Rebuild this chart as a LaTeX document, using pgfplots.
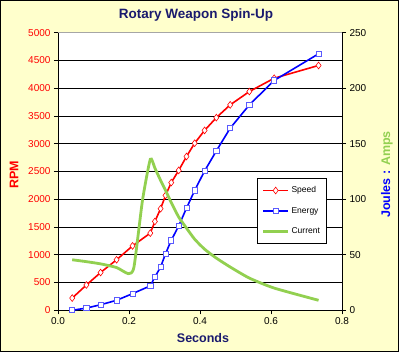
\documentclass[border=0pt]{standalone}
\usepackage{pgfplots}
\pgfplotsset{compat=1.18}
\usepackage{fontspec}
\setmainfont{Liberation Sans}
\definecolor{bgyellow}{RGB}{255,255,204}
\definecolor{navy}{RGB}{26,26,110}
\definecolor{curgreen}{RGB}{146,208,80}
\definecolor{mkblue}{RGB}{90,90,255}

\pgfplotstableread{
x speed energy
0.040 220 0
0.080 456 2
0.120 680 5
0.165 910 9
0.210 1160 15
0.260 1390 22
0.273 1600 30
0.289 1830 39
0.303 2070 51
0.319 2300 63
0.340 2520 76
0.362 2770 92
0.385 3010 108
0.413 3240 125.5
0.446 3470 143.5
0.485 3700 164
0.539 3940 185
0.609 4180 207
0.734 4410 231
}\spintable

\pgfplotstableread{
x amps
0.040 45.5
0.080 43.8
0.120 41.8
0.165 38.5
0.198 33
0.214 39
0.238 99
0.260 136
0.273 128
0.289 117
0.303 108
0.319 97
0.340 84
0.362 74
0.385 64
0.413 55
0.446 47
0.485 39
0.539 29
0.609 20
0.734 9
}\currenttable

\begin{document}
\begin{tikzpicture}[x=1pt,y=1pt]
\fill[bgyellow] (-58,-41.7) rectangle (341,310.3);
\draw[line width=1pt] (-57.5,-41.2) rectangle (340.5,309.8);
\begin{axis}[
  at={(0pt,0pt)}, anchor=south west,
  scale only axis, width=284pt, height=277.6pt,
  axis background/.style={fill=white},
  xmin=0, xmax=0.8, ymin=0, ymax=5000,
  xtick={0,0.2,0.4,0.6,0.8},
  ytick={0,500,1000,1500,2000,2500,3000,3500,4000,4500,5000},
  axis x line*=bottom, axis y line*=left,
  axis line style={-, black, line width=0.8pt},
  tick align=outside, major tick length=4pt,
  tick style={black, line width=0.8pt},
  ymajorgrids, grid style={black, line width=0.8pt},
  /pgf/number format/assume math mode=true,
  /pgf/number format/1000 sep={},
  scaled ticks=false,
  xticklabel style={/pgf/number format/.cd, fixed, fixed zerofill, precision=1},
  tick label style={font=\fontsize{10}{12}\selectfont},
  yticklabel style={red},
  title={\textbf{Rotary Weapon Spin-Up}},
  title style={navy, font=\fontsize{13.5}{15}\selectfont, at={(axis description cs:0.5,1)}, anchor=base, yshift=8.3pt, xshift=-4pt},
  xlabel={\textbf{Seconds}},
  xlabel style={navy, font=\fontsize{12.5}{14}\selectfont, at={(axis description cs:0.5,0)}, anchor=base, yshift=-32pt, xshift=3pt},
  ylabel={\textbf{RPM}},
  ylabel style={red, font=\fontsize{12.5}{14}\selectfont, at={(axis description cs:0,0.5)}, anchor=center, yshift=44pt, xshift=-3pt},
]
\addplot[red, line width=1.6pt, mark=diamond*, mark size=3.4pt,
  mark options={fill=white, draw=red, line width=0.6pt, solid}]
  table[x=x, y=speed] {\spintable};
\draw[gray!70, line width=0.8pt] (rel axis cs:0,1) -- (rel axis cs:1,1);
\end{axis}
\begin{axis}[
  at={(0pt,0pt)}, anchor=south west,
  scale only axis, width=284pt, height=277.6pt,
  xmin=0, xmax=0.8, ymin=0, ymax=250,
  ytick={0,50,100,150,200,250},
  axis x line=none, axis y line*=right,
  axis line style={-, black, line width=0.8pt},
  tick align=outside, major tick length=4pt,
  tick style={black, line width=0.8pt},
  /pgf/number format/assume math mode=true,
  scaled ticks=false,
  tick label style={font=\fontsize{10}{12}\selectfont},
  ylabel={\textbf{\textcolor{blue}{Joules :} \textcolor{curgreen}{Amps}}},
  ylabel style={font=\fontsize{12.5}{14}\selectfont, at={(axis description cs:1,0.5)}, anchor=center, yshift=-45pt, xshift=-3pt},
  legend style={at={(0.702,0.4755)}, anchor=north west, draw=black, line width=0.8pt,
    fill=white, font=\fontsize{8.5}{10}\selectfont, row sep=9pt,
    inner xsep=4pt, inner ysep=6pt, cells={anchor=west}},
  legend image code/.code={
    \draw[mark repeat=2, mark phase=2] plot coordinates {(0pt,0pt) (12.5pt,0pt) (25pt,0pt)};},
]
\addlegendimage{red, line width=1.6pt, mark=diamond*, mark size=3.4pt,
  mark options={fill=white, draw=red, line width=0.6pt, solid}}
\addlegendentry{Speed}
\addplot[blue, line width=1.6pt, mark=square*, mark size=2.6pt,
  mark options={fill=white, draw=mkblue, line width=0.8pt, solid}]
  table[x=x, y=energy] {\spintable};
\addlegendentry{Energy}
\addplot[curgreen, line width=2.8pt, smooth, tension=0.35]
  table[x=x, y=amps] {\currenttable};
\addlegendentry{Current}
\end{axis}
\end{tikzpicture}
\end{document}
